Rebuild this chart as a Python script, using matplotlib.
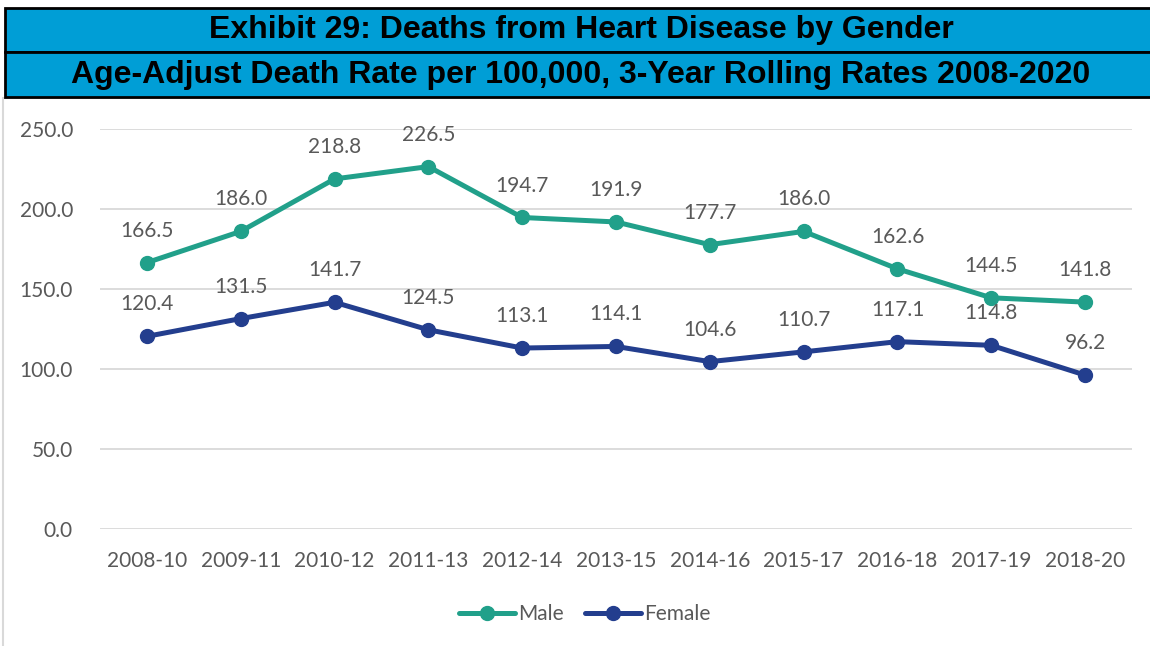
import matplotlib.pyplot as plt
from matplotlib.patches import Rectangle

# data
periods = ["2008-10", "2009-11", "2010-12", "2011-13", "2012-14", "2013-15",
           "2014-16", "2015-17", "2016-18", "2017-19", "2018-20"]
male = [166.5, 186.0, 218.8, 226.5, 194.7, 191.9, 177.7, 186.0, 162.6, 144.5, 141.8]
female = [120.4, 131.5, 141.7, 124.5, 113.1, 114.1, 104.6, 110.7, 117.1, 114.8, 96.2]

title1 = "Exhibit 29: Deaths from Heart Disease by Gender"
title2 = "Age-Adjust Death Rate per 100,000, 3-Year Rolling Rates 2008-2020"

male_color = "#21A08A"
female_color = "#233E8E"
text_grey = "#595959"

W, H = 1150, 646
fig = plt.figure(figsize=(W / 100, H / 100), dpi=100)

# chart-area frame (behind the axes)
fig.patches.append(Rectangle((3 / W, -0.01), 1.0, 1 - 98 / H + 0.01, transform=fig.transFigure,
                             facecolor="none", edgecolor="#D9D9D9", linewidth=1.5, zorder=-1))

# two blue title bars
for top, bot, txt in [(8, 52, title1), (52, 97, title2)]:
    fig.patches.append(Rectangle((5 / W, 1 - bot / H), 1.0, (bot - top) / H,
                                 transform=fig.transFigure, facecolor="#009ED6",
                                 edgecolor="black", linewidth=2, zorder=2))
    fig.text(581 / W, 1 - (top + bot) / 2 / H, txt, ha="center", va="center",
             fontsize=23, fontweight="bold", family="Liberation Sans", color="black",
             zorder=3)

ax = fig.add_axes([100 / W, 117 / H, (1132 - 100) / W, (529 - 129) / H])
x = range(len(periods))
ax.plot(x, male, color=male_color, lw=3.6, marker="o", ms=10, label="Male",
        solid_capstyle="round")
ax.plot(x, female, color=female_color, lw=3.6, marker="o", ms=10, label="Female",
        solid_capstyle="round")

for xs, ys in [(x, male), (x, female)]:
    for xi, yi in zip(xs, ys):
        ax.annotate(f"{yi:.1f}", (xi, yi), xytext=(0, 23), textcoords="offset points",
                    ha="center", va="center", fontsize=15, family="Lato", color=text_grey)

ax.set_xlim(-0.5, len(periods) - 0.5)
ax.set_ylim(0, 250)
ax.set_yticks(range(0, 251, 50))
ax.set_yticklabels([f"{v:.1f}" for v in range(0, 251, 50)])
ax.set_xticks(list(x))
ax.set_xticklabels(periods)
ax.tick_params(length=0, labelsize=15, colors=text_grey)
ax.tick_params(axis="x", pad=16)
ax.tick_params(axis="y", pad=19.5)
for lab in ax.get_xticklabels() + ax.get_yticklabels():
    lab.set_family("Lato")
ax.grid(axis="y", color="#D9D9D9", lw=1.3)
ax.set_axisbelow(True)
ax.patch.set_alpha(0)
for s in ax.spines.values():
    s.set_visible(False)

leg = ax.legend(loc="center", bbox_to_anchor=(0.47, -0.212), ncol=2, frameon=False,
                prop={"family": "Lato", "size": 15}, handlelength=2.7, handletextpad=0.15,
                columnspacing=1.0)
for t in leg.get_texts():
    t.set_color(text_grey)

fig.savefig("out.png", dpi=100)
